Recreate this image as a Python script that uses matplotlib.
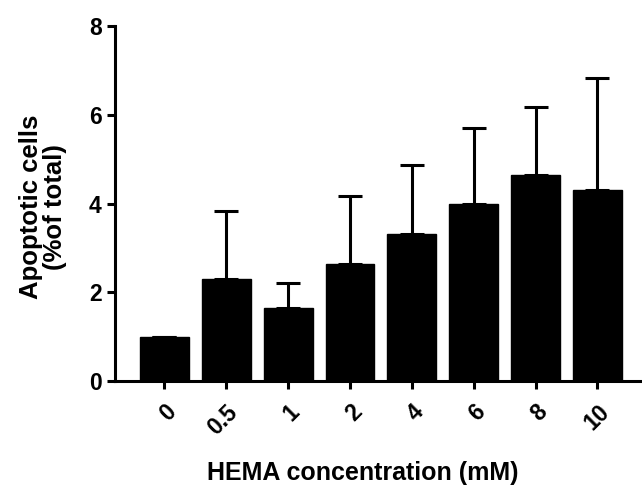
import matplotlib
matplotlib.use("Agg")
import matplotlib.pyplot as plt

plt.rcParams["font.family"] = ["Liberation Sans", "DejaVu Sans"]
plt.rcParams["font.weight"] = "bold"

# HEMA濃度ごとのアポトーシス細胞割合（平均と上側SD）
concentrations = ["0", "0.5", "1", "2", "4", "6", "8", "10"]
apoptotic_mean = [1.0, 2.31, 1.64, 2.64, 3.31, 3.99, 4.65, 4.30]
apoptotic_sd = [0.0, 1.53, 0.58, 1.53, 1.55, 1.72, 1.52, 2.52]

fig = plt.figure(figsize=(6.42, 4.92), dpi=100)
ax = fig.add_axes([0.179, 0.2256, 0.821, 0.7214])

x = list(range(len(concentrations)))
ax.bar(x, apoptotic_mean, width=0.79, color="black", edgecolor="black", zorder=2)
ax.errorbar(x, apoptotic_mean, yerr=[[0] * len(x), apoptotic_sd], fmt="none",
            ecolor="black", elinewidth=2.2, capsize=8.6, capthick=2.2, zorder=3)

ax.set_xlim(-0.8, 7.72)
ax.set_ylim(0, 8)
ax.set_yticks([0, 2, 4, 6, 8])
ax.set_xticks(x)
ax.set_xticklabels(concentrations, rotation=45, ha="right", rotation_mode="anchor")

for side in ["top", "right"]:
    ax.spines[side].set_visible(False)
for side in ["left", "bottom"]:
    ax.spines[side].set_linewidth(2.2)
ax.tick_params(width=2.2, length=6, labelsize=16.5)
ax.tick_params(axis="x", pad=8)

ax.set_ylabel("Apoptotic cells\n(%of total)", fontsize=18.5, fontweight="bold",
              linespacing=1.0)
ax.yaxis.set_label_coords(-0.09, 0.49)
ax.set_xlabel("HEMA concentration (mM)", fontsize=18, fontweight="bold")
ax.xaxis.set_label_coords(0.47, -0.225)

fig.savefig("out.png", dpi=100)
